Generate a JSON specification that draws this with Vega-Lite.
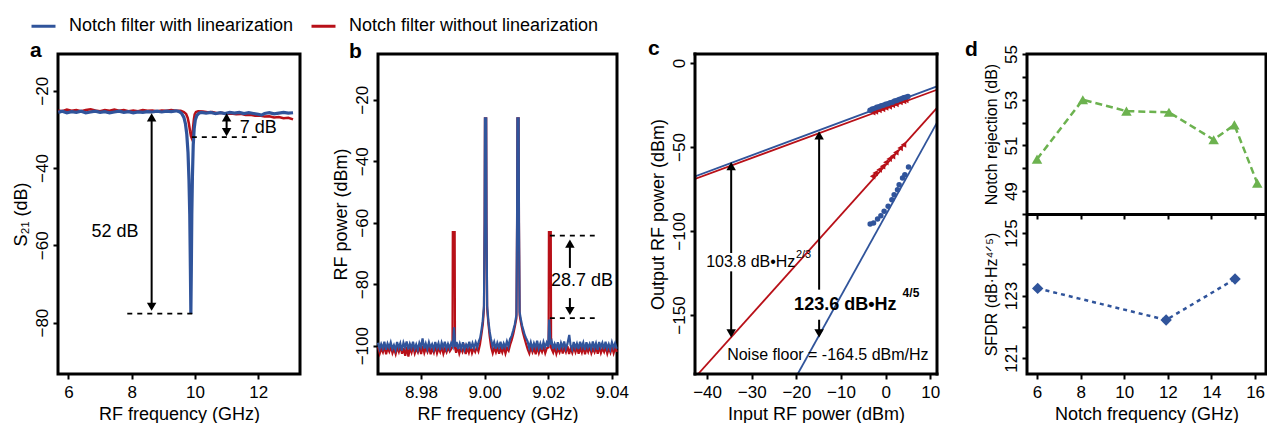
{
"$schema": "https://vega.github.io/schema/vega-lite/v6.json",
"background": "white",
"padding": {"left": 10, "top": 12, "right": 0, "bottom": 0},
"config": {
  "font": "Liberation Sans",
  "view": {"stroke": "black", "strokeWidth": 3},
  "axis": {"domain": false, "grid": false, "ticks": true, "tickColor": "black", "tickWidth": 2, "tickSize": 5, "labelFont": "Liberation Sans", "labelFontSize": 17, "labelColor": "black", "labelPadding": 5, "labelOverlap": false, "labelFlush": false, "titleFont": "Liberation Sans", "titleFontSize": 18, "titleFontWeight": "normal", "titleColor": "black", "titlePadding": 5},
  "axisY": {"labelAngle": -90, "labelAlign": "center", "labelBaseline": "bottom", "labelPadding": 2, "titlePadding": 3},
  "title": {"font": "Liberation Sans", "fontSize": 21, "fontWeight": "bold", "color": "black", "anchor": "start", "frame": "group", "baseline": "alphabetic", "offset": 0}
},
"datasets": {
  "a_with": [
    {"x":5.68,"y":-25.6},{"x":5.8,"y":-25.3},{"x":5.95,"y":-25.7},{"x":6.1,"y":-25.4},{"x":6.25,"y":-25.6},{"x":6.4,"y":-25.3},{"x":6.55,"y":-25.7},{"x":6.7,"y":-25.5},{"x":6.85,"y":-25.3},{"x":7.0,"y":-25.6},{"x":7.15,"y":-25.4},{"x":7.3,"y":-25.7},{"x":7.45,"y":-25.5},{"x":7.6,"y":-25.3},{"x":7.75,"y":-25.6},{"x":7.9,"y":-25.4},{"x":8.05,"y":-25.7},{"x":8.2,"y":-25.5},{"x":8.35,"y":-25.6},{"x":8.5,"y":-25.4},{"x":8.65,"y":-25.5},{"x":8.8,"y":-25.3},{"x":8.95,"y":-25.5},{"x":9.1,"y":-25.3},{"x":9.25,"y":-25.4},{"x":9.4,"y":-25.2},{"x":9.5,"y":-25.4},{"x":9.58,"y":-25.9},{"x":9.65,"y":-26.9},{"x":9.7,"y":-28.6},{"x":9.74,"y":-31.2},{"x":9.78,"y":-36},{"x":9.81,"y":-43},{"x":9.835,"y":-52},{"x":9.855,"y":-66},{"x":9.87,"y":-77.8},{"x":9.885,"y":-66},{"x":9.9,"y":-52},{"x":9.92,"y":-42},{"x":9.945,"y":-34},{"x":9.975,"y":-29.8},{"x":10.01,"y":-27.6},{"x":10.06,"y":-26.4},{"x":10.13,"y":-25.8},{"x":10.2,"y":-25.6},{"x":10.35,"y":-25.8},{"x":10.5,"y":-25.6},{"x":10.65,"y":-25.9},{"x":10.8,"y":-25.7},{"x":10.95,"y":-25.9},{"x":11.1,"y":-25.6},{"x":11.25,"y":-25.8},{"x":11.4,"y":-25.6},{"x":11.55,"y":-25.9},{"x":11.7,"y":-25.7},{"x":11.85,"y":-25.9},{"x":12.0,"y":-26.1},{"x":12.1,"y":-26.3},{"x":12.2,"y":-25.9},{"x":12.35,"y":-25.7},{"x":12.5,"y":-26.0},{"x":12.65,"y":-25.8},{"x":12.8,"y":-25.6},{"x":12.95,"y":-25.8},{"x":13.1,"y":-25.7}
  ],
  "a_without": [
    {"x":5.68,"y":-25.1},{"x":5.8,"y":-25.3},{"x":5.95,"y":-24.9},{"x":6.1,"y":-25.2},{"x":6.25,"y":-25.0},{"x":6.4,"y":-25.3},{"x":6.55,"y":-25.0},{"x":6.7,"y":-24.8},{"x":6.85,"y":-25.1},{"x":7.0,"y":-25.3},{"x":7.15,"y":-25.0},{"x":7.3,"y":-25.2},{"x":7.45,"y":-24.9},{"x":7.6,"y":-25.2},{"x":7.75,"y":-25.0},{"x":7.9,"y":-25.3},{"x":8.05,"y":-25.1},{"x":8.2,"y":-25.3},{"x":8.35,"y":-25.0},{"x":8.5,"y":-25.2},{"x":8.65,"y":-25.1},{"x":8.8,"y":-25.3},{"x":8.95,"y":-25.1},{"x":9.1,"y":-25.2},{"x":9.25,"y":-25.0},{"x":9.4,"y":-25.2},{"x":9.55,"y":-25.2},{"x":9.65,"y":-25.5},{"x":9.72,"y":-26.0},{"x":9.77,"y":-27.0},{"x":9.81,"y":-28.6},{"x":9.845,"y":-30.5},{"x":9.875,"y":-31.8},{"x":9.895,"y":-32.2},{"x":9.915,"y":-31.5},{"x":9.94,"y":-29.5},{"x":9.965,"y":-27.4},{"x":9.99,"y":-26.1},{"x":10.03,"y":-25.5},{"x":10.1,"y":-25.3},{"x":10.25,"y":-25.4},{"x":10.4,"y":-25.6},{"x":10.55,"y":-25.5},{"x":10.7,"y":-25.8},{"x":10.85,"y":-25.7},{"x":11.0,"y":-26.0},{"x":11.15,"y":-25.9},{"x":11.3,"y":-26.1},{"x":11.45,"y":-26.0},{"x":11.6,"y":-26.3},{"x":11.75,"y":-26.2},{"x":11.9,"y":-26.5},{"x":12.05,"y":-26.4},{"x":12.2,"y":-26.7},{"x":12.35,"y":-26.6},{"x":12.5,"y":-26.9},{"x":12.65,"y":-26.8},{"x":12.8,"y":-27.1},{"x":12.95,"y":-27.0},{"x":13.1,"y":-27.4}
  ],
  "b_with": [
    {"x":8.9665,"y":-99.0},{"x":8.9670,"y":-101.1},{"x":8.9675,"y":-99.5},{"x":8.9680,"y":-100.9},{"x":8.9685,"y":-98.7},{"x":8.9690,"y":-101.3},{"x":8.9695,"y":-99.3},{"x":8.9700,"y":-100.6},{"x":8.9705,"y":-98.9},{"x":8.9710,"y":-101.0},{"x":8.9715,"y":-99.8},{"x":8.9720,"y":-101.4},{"x":8.9725,"y":-98.8},{"x":8.9730,"y":-100.7},{"x":8.9735,"y":-99.2},{"x":8.9740,"y":-101.6},{"x":8.9745,"y":-99.0},{"x":8.9750,"y":-100.5},{"x":8.9755,"y":-98.6},{"x":8.9760,"y":-101.2},{"x":8.9765,"y":-99.4},{"x":8.9770,"y":-100.8},{"x":8.9775,"y":-98.7},{"x":8.9780,"y":-101.0},{"x":8.9785,"y":-99.6},{"x":8.9790,"y":-101.3},{"x":8.9795,"y":-99.1},{"x":8.9800,"y":-100.4},{"x":8.9805,"y":-97.6},{"x":8.9810,"y":-100.9},{"x":8.9815,"y":-99.3},{"x":8.9820,"y":-101.1},{"x":8.9825,"y":-98.9},{"x":8.9830,"y":-100.6},{"x":8.9835,"y":-99.5},{"x":8.9840,"y":-101.2},{"x":8.9845,"y":-98.8},{"x":8.9850,"y":-100.7},{"x":8.9855,"y":-99.2},{"x":8.9860,"y":-101.4},{"x":8.9865,"y":-99.0},{"x":8.9870,"y":-100.5},{"x":8.9875,"y":-98.7},{"x":8.9880,"y":-101.0},{"x":8.9885,"y":-99.4},{"x":8.9890,"y":-100.8},{"x":8.9895,"y":-99.1},{"x":8.9900,"y":-100.2},{"x":8.9904,"y":-94.0},{"x":8.9908,"y":-100.4},{"x":8.9912,"y":-98.8},{"x":8.9917,"y":-101.1},{"x":8.9922,"y":-99.3},{"x":8.9927,"y":-100.9},{"x":8.9932,"y":-98.9},{"x":8.9937,"y":-101.2},{"x":8.9942,"y":-99.6},{"x":8.9947,"y":-100.6},{"x":8.9952,"y":-98.7},{"x":8.9957,"y":-101.0},{"x":8.9962,"y":-99.2},{"x":8.9967,"y":-100.7},{"x":8.9972,"y":-98.9},{"x":8.9977,"y":-100.4},{"x":8.9982,"y":-98.5},{"x":8.9986,"y":-97.5},{"x":8.9990,"y":-95},{"x":8.9994,"y":-92},{"x":8.9998,"y":-87},{"x":9.0000,"y":-60},{"x":9.0001,"y":-26},{"x":9.0005,"y":-26},{"x":9.0006,"y":-60},{"x":9.0008,"y":-87},{"x":9.0012,"y":-92},{"x":9.0016,"y":-95.5},{"x":9.0020,"y":-97.8},{"x":9.0025,"y":-100.3},{"x":9.0030,"y":-98.8},{"x":9.0035,"y":-101.0},{"x":9.0040,"y":-99.1},{"x":9.0045,"y":-100.6},{"x":9.0050,"y":-98.7},{"x":9.0055,"y":-101.1},{"x":9.0060,"y":-99.3},{"x":9.0065,"y":-100.5},{"x":9.0070,"y":-98.6},{"x":9.0075,"y":-100.2},{"x":9.0080,"y":-97.8},{"x":9.0085,"y":-96.8},{"x":9.0090,"y":-95},{"x":9.0095,"y":-93},{"x":9.0100,"y":-90},{"x":9.0102,"y":-60},{"x":9.0103,"y":-26},{"x":9.0107,"y":-26},{"x":9.0108,"y":-60},{"x":9.0110,"y":-89},{"x":9.0114,"y":-91.5},{"x":9.0118,"y":-93.5},{"x":9.0122,"y":-95},{"x":9.0126,"y":-96.5},{"x":9.0130,"y":-97.5},{"x":9.0135,"y":-98.6},{"x":9.0140,"y":-100.7},{"x":9.0145,"y":-98.9},{"x":9.0150,"y":-101.0},{"x":9.0155,"y":-99.2},{"x":9.0160,"y":-100.6},{"x":9.0165,"y":-98.4},{"x":9.0170,"y":-100.9},{"x":9.0175,"y":-99.3},{"x":9.0180,"y":-101.2},{"x":9.0185,"y":-98.8},{"x":9.0190,"y":-100.5},{"x":9.0195,"y":-99.0},{"x":9.0200,"y":-100.3},{"x":9.0203,"y":-91.5},{"x":9.0207,"y":-99.6},{"x":9.0211,"y":-98.7},{"x":9.0215,"y":-101.0},{"x":9.0220,"y":-99.4},{"x":9.0225,"y":-100.8},{"x":9.0230,"y":-98.9},{"x":9.0235,"y":-101.3},{"x":9.0240,"y":-99.1},{"x":9.0245,"y":-100.6},{"x":9.0250,"y":-98.6},{"x":9.0255,"y":-101.0},{"x":9.0260,"y":-99.5},{"x":9.0266,"y":-96.5},{"x":9.0270,"y":-99.8},{"x":9.0275,"y":-101.2},{"x":9.0280,"y":-98.8},{"x":9.0285,"y":-100.7},{"x":9.0290,"y":-99.3},{"x":9.0295,"y":-101.1},{"x":9.0300,"y":-98.7},{"x":9.0305,"y":-100.5},{"x":9.0310,"y":-99.0},{"x":9.0315,"y":-101.4},{"x":9.0320,"y":-98.9},{"x":9.0325,"y":-100.6},{"x":9.0330,"y":-99.4},{"x":9.0335,"y":-101.0},{"x":9.0340,"y":-98.6},{"x":9.0345,"y":-100.8},{"x":9.0350,"y":-99.2},{"x":9.0355,"y":-101.3},{"x":9.0360,"y":-98.8},{"x":9.0365,"y":-100.5},{"x":9.0370,"y":-99.1},{"x":9.0375,"y":-101.1},{"x":9.0380,"y":-98.7},{"x":9.0385,"y":-100.9},{"x":9.0390,"y":-99.5},{"x":9.0395,"y":-101.2},{"x":9.0400,"y":-98.9},{"x":9.0405,"y":-100.6},{"x":9.0410,"y":-99.2},{"x":9.0415,"y":-101.0}
  ],
  "b_without": [
    {"x":8.96655,"y":-100.4},{"x":8.96705,"y":-102.5},{"x":8.96755,"y":-100.9},{"x":8.96805,"y":-102.1},{"x":8.96855,"y":-100.2},{"x":8.96905,"y":-102.8},{"x":8.96955,"y":-100.6},{"x":8.97005,"y":-101.9},{"x":8.97055,"y":-100.3},{"x":8.97105,"y":-102.4},{"x":8.97155,"y":-101.0},{"x":8.97205,"y":-102.7},{"x":8.97255,"y":-100.5},{"x":8.97305,"y":-102.0},{"x":8.97355,"y":-100.1},{"x":8.97405,"y":-102.6},{"x":8.97455,"y":-100.8},{"x":8.97505,"y":-103.3},{"x":8.97555,"y":-100.4},{"x":8.97605,"y":-103.5},{"x":8.97655,"y":-100.7},{"x":8.97705,"y":-102.2},{"x":8.97755,"y":-100.2},{"x":8.97805,"y":-102.5},{"x":8.97855,"y":-100.9},{"x":8.97905,"y":-102.1},{"x":8.97955,"y":-100.3},{"x":8.98005,"y":-102.7},{"x":8.98055,"y":-100.0},{"x":8.98105,"y":-102.3},{"x":8.98155,"y":-100.6},{"x":8.98205,"y":-102.0},{"x":8.98255,"y":-100.4},{"x":8.98305,"y":-102.8},{"x":8.98355,"y":-100.8},{"x":8.98405,"y":-102.2},{"x":8.98455,"y":-100.1},{"x":8.98505,"y":-102.4},{"x":8.98555,"y":-100.7},{"x":8.98605,"y":-102.0},{"x":8.98655,"y":-100.3},{"x":8.98705,"y":-102.6},{"x":8.98755,"y":-100.9},{"x":8.98805,"y":-102.1},{"x":8.98855,"y":-100.5},{"x":8.98905,"y":-101.8},{"x":8.9899,"y":-100.4},{"x":8.9900,"y":-63},{"x":8.9906,"y":-63},{"x":8.9907,"y":-100.6},{"x":8.99105,"y":-102.3},{"x":8.99155,"y":-100.2},{"x":8.99205,"y":-102.5},{"x":8.99255,"y":-100.8},{"x":8.99305,"y":-102.0},{"x":8.99355,"y":-100.4},{"x":8.99405,"y":-102.7},{"x":8.99455,"y":-100.6},{"x":8.99505,"y":-102.2},{"x":8.99555,"y":-100.1},{"x":8.99605,"y":-102.4},{"x":8.99655,"y":-100.9},{"x":8.99705,"y":-102.0},{"x":8.99755,"y":-100.5},{"x":8.99805,"y":-101.8},{"x":8.99855,"y":-99.5},{"x":8.99905,"y":-96},{"x":8.99945,"y":-93},{"x":8.9998,"y":-88},{"x":9.0000,"y":-60},{"x":9.0001,"y":-26},{"x":9.0005,"y":-26},{"x":9.0006,"y":-60},{"x":9.0008,"y":-88},{"x":9.0012,"y":-93},{"x":9.0016,"y":-97},{"x":9.00205,"y":-100.5},{"x":9.00255,"y":-102.4},{"x":9.00305,"y":-100.6},{"x":9.00355,"y":-102.1},{"x":9.00405,"y":-100.3},{"x":9.00455,"y":-102.6},{"x":9.00505,"y":-100.8},{"x":9.00555,"y":-102.2},{"x":9.00605,"y":-100.4},{"x":9.00655,"y":-102.5},{"x":9.00705,"y":-100.7},{"x":9.00755,"y":-101.6},{"x":9.00805,"y":-99.6},{"x":9.00855,"y":-98},{"x":9.00905,"y":-96},{"x":9.00955,"y":-93.5},{"x":9.0100,"y":-91},{"x":9.0102,"y":-60},{"x":9.0103,"y":-26},{"x":9.0107,"y":-26},{"x":9.0108,"y":-60},{"x":9.0110,"y":-90},{"x":9.0115,"y":-93},{"x":9.0120,"y":-95.5},{"x":9.0125,"y":-97.5},{"x":9.01305,"y":-99.5},{"x":9.01355,"y":-101.2},{"x":9.01405,"y":-102.5},{"x":9.01455,"y":-100.4},{"x":9.01505,"y":-102.1},{"x":9.01555,"y":-100.7},{"x":9.01605,"y":-102.8},{"x":9.01655,"y":-100.2},{"x":9.01705,"y":-102.3},{"x":9.01755,"y":-100.6},{"x":9.01805,"y":-102.0},{"x":9.01855,"y":-100.3},{"x":9.01905,"y":-102.4},{"x":9.01955,"y":-100.8},{"x":9.0201,"y":-100.5},{"x":9.0202,"y":-63},{"x":9.0208,"y":-63},{"x":9.0209,"y":-100.7},{"x":9.02155,"y":-102.2},{"x":9.02205,"y":-100.4},{"x":9.02255,"y":-102.6},{"x":9.02305,"y":-100.9},{"x":9.02355,"y":-102.1},{"x":9.02405,"y":-100.3},{"x":9.02455,"y":-102.5},{"x":9.02505,"y":-100.6},{"x":9.02555,"y":-102.0},{"x":9.02605,"y":-100.2},{"x":9.02655,"y":-102.7},{"x":9.02705,"y":-100.8},{"x":9.02755,"y":-102.3},{"x":9.02805,"y":-100.5},{"x":9.02855,"y":-102.1},{"x":9.02905,"y":-100.4},{"x":9.02955,"y":-102.6},{"x":9.03005,"y":-100.7},{"x":9.03055,"y":-102.2},{"x":9.03105,"y":-100.1},{"x":9.03155,"y":-102.8},{"x":9.03205,"y":-100.6},{"x":9.03255,"y":-102.0},{"x":9.03305,"y":-100.3},{"x":9.03355,"y":-102.4},{"x":9.03405,"y":-100.9},{"x":9.03455,"y":-102.1},{"x":9.03505,"y":-100.5},{"x":9.03555,"y":-102.6},{"x":9.03605,"y":-100.2},{"x":9.03655,"y":-102.3},{"x":9.03705,"y":-100.8},{"x":9.03755,"y":-102.0},{"x":9.03805,"y":-100.4},{"x":9.03855,"y":-102.5},{"x":9.03905,"y":-100.7},{"x":9.03955,"y":-102.2},{"x":9.04005,"y":-100.3},{"x":9.04055,"y":-102.4},{"x":9.04105,"y":-100.6},{"x":9.04155,"y":-102.0}
  ],
  "c_fund_with": [
    {"x":-3.5,"y":-28.1},{"x":-3.0,"y":-27.4},{"x":-2.5,"y":-27.0},{"x":-2.0,"y":-26.4},{"x":-1.5,"y":-26.0},{"x":-1.0,"y":-25.4},{"x":-0.5,"y":-25.1},{"x":0,"y":-24.6},{"x":0.5,"y":-24.2},{"x":1.0,"y":-23.6},{"x":1.5,"y":-23.3},{"x":2.0,"y":-22.6},{"x":2.5,"y":-22.3},{"x":3.0,"y":-21.7},{"x":3.5,"y":-21.3},{"x":4.0,"y":-20.7},{"x":4.5,"y":-20.4},{"x":5.0,"y":-19.9}
  ],
  "c_fund_without": [
    {"x":-2.9,"y":-29.4},{"x":-2.3,"y":-28.9},{"x":-1.5,"y":-28.0},{"x":-0.7,"y":-27.4},{"x":0,"y":-26.5},{"x":0.8,"y":-25.9},{"x":1.5,"y":-25.0},{"x":2.3,"y":-24.4},{"x":3.2,"y":-23.3},{"x":4.0,"y":-22.7},{"x":4.5,"y":-22.1}
  ],
  "c_imd_with": [
    {"x":-3.47,"y":-95.8},{"x":-2.71,"y":-95.2},{"x":-1.81,"y":-92.9},{"x":-1.07,"y":-90.9},{"x":-0.34,"y":-88.3},{"x":0.56,"y":-85.3},{"x":1.39,"y":-81.4},{"x":1.9,"y":-78.4},{"x":2.66,"y":-75.4},{"x":3.02,"y":-72.4},{"x":3.78,"y":-68.5},{"x":4.3,"y":-66.5},{"x":5.12,"y":-61.9}
  ],
  "c_imd_without": [
    {"x":-2.93,"y":-67.4},{"x":-2.35,"y":-65.5},{"x":-1.45,"y":-63.5},{"x":-0.69,"y":-61.5},{"x":0.04,"y":-59.1},{"x":0.78,"y":-57.1},{"x":1.54,"y":-55.5},{"x":2.28,"y":-53.2},{"x":3.24,"y":-50.6},{"x":4.0,"y":-48.6}
  ],
  "d_rej": [
    {"x":6.0,"y":50.4},{"x":8.1,"y":53.0},{"x":10.1,"y":52.5},{"x":12.05,"y":52.45},{"x":14.1,"y":51.25},{"x":15.05,"y":51.9},{"x":16.1,"y":49.35}
  ],
  "d_sfdr": [
    {"x":6.03,"y":123.23},{"x":11.92,"y":122.22},{"x":15.08,"y":123.53}
  ]
},
"hconcat": [
  {
    "width": 242, "height": 320,
    "title": {"text": "a", "dx": -28, "dy": 11},
    "encoding": {
      "x": {"field": "x", "type": "quantitative", "scale": {"domain": [5.67, 13.32], "nice": false, "zero": false}, "axis": {"values": [6, 8, 10, 12], "title": "RF frequency (GHz)"}},
      "y": {"field": "y", "type": "quantitative", "scale": {"domain": [-93.3, -10.5], "nice": false, "zero": false}, "axis": {"orient": "left", "values": [-20, -40, -60, -80], "title": "S₂₁ (dB)", "labelAngle": -90, "labelAlign": "center", "labelBaseline": "bottom"}}
    },
    "layer": [
      {"data": {"name": "a_without"}, "mark": {"type": "line", "strokeWidth": 2.5},
       "encoding": {"color": {"datum": "Notch filter without linearization", "type": "nominal",
         "scale": {"domain": ["Notch filter with linearization", "Notch filter without linearization"], "range": ["#30549b", "#b81018"]},
         "legend": {"orient": "none", "legendX": -28, "legendY": -41.5, "direction": "horizontal", "title": null, "symbolType": "stroke", "symbolSize": 576, "symbolStrokeWidth": 3, "labelFontSize": 18, "labelFont": "Liberation Sans", "labelColor": "black", "labelLimit": 400, "labelOffset": 12, "columnPadding": 11, "padding": 0}}}},
      {"data": {"name": "a_with"}, "mark": {"type": "line", "strokeWidth": 3.2},
       "encoding": {"color": {"datum": "Notch filter with linearization", "type": "nominal",
         "scale": {"domain": ["Notch filter with linearization", "Notch filter without linearization"], "range": ["#30549b", "#b81018"]},
         "legend": {"orient": "none", "legendX": -28, "legendY": -41.5, "direction": "horizontal", "title": null, "symbolType": "stroke", "symbolSize": 576, "symbolStrokeWidth": 3, "labelFontSize": 18, "labelFont": "Liberation Sans", "labelColor": "black", "labelLimit": 400, "labelOffset": 12, "columnPadding": 11, "padding": 0}}}},
      {"data": {"values": [{"x": 7.86, "x2": 9.93, "y": -77.7}, {"x": 9.9, "x2": 11.95, "y": -32.0}]},
       "mark": {"type": "rule", "color": "black", "strokeWidth": 1.8, "strokeDash": [5, 5]},
       "encoding": {"x2": {"field": "x2"}}},
      {"data": {"values": [{"x": 8.63, "y": -26.9, "y2": -75.9}, {"x": 11.0, "y": -26.9, "y2": -30.7}]},
       "mark": {"type": "rule", "color": "black", "strokeWidth": 2},
       "encoding": {"y2": {"field": "y2"}}},
      {"data": {"values": [{"x": 8.63, "y": -26.9}, {"x": 11.0, "y": -26.9}]},
       "mark": {"type": "point", "shape": "triangle-up", "filled": true, "color": "black", "size": 90, "opacity": 1, "strokeWidth": 0}},
      {"data": {"values": [{"x": 8.63, "y": -75.9}, {"x": 11.0, "y": -30.7}]},
       "mark": {"type": "point", "shape": "triangle-down", "filled": true, "color": "black", "size": 90, "opacity": 1, "strokeWidth": 0}},
      {"data": {"values": [{"x": 7.47, "y": -56.6, "label": "52 dB"}, {"x": 12.0, "y": -29.7, "label": "7 dB"}]},
       "mark": {"type": "text", "fontSize": 18, "font": "Liberation Sans", "color": "black", "align": "center", "baseline": "middle"},
       "encoding": {"text": {"field": "label"}}}
    ]
  },
  {
    "width": 239, "height": 320,
    "title": {"text": "b", "dx": -29, "dy": 12},
    "encoding": {
      "x": {"field": "x", "type": "quantitative", "scale": {"domain": [8.9665, 9.0416], "nice": false, "zero": false}, "axis": {"values": [8.98, 9.0, 9.02, 9.04], "format": ".2f", "title": "RF frequency (GHz)"}},
      "y": {"field": "y", "type": "quantitative", "scale": {"domain": [-109.2, -5.1], "nice": false, "zero": false}, "axis": {"orient": "left", "values": [-20, -40, -60, -80, -100], "title": "RF power (dBm)", "labelAngle": -90, "labelAlign": "center", "labelBaseline": "bottom"}}
    },
    "layer": [
      {"data": {"name": "b_without"}, "mark": {"type": "line", "color": "#b81018", "strokeWidth": 2.2}},
      {"data": {"name": "b_with"}, "mark": {"type": "line", "color": "#30549b", "strokeWidth": 2.2}},
      {"data": {"values": [{"x": 9.0205, "x2": 9.0346, "y": -64.2}, {"x": 9.0205, "x2": 9.0346, "y": -91.0}]},
       "mark": {"type": "rule", "color": "black", "strokeWidth": 1.8, "strokeDash": [5, 5]},
       "encoding": {"x2": {"field": "x2"}}},
      {"data": {"values": [{"x": 9.0268, "y": -66.8, "y2": -74.7}, {"x": 9.0268, "y": -84.5, "y2": -88.7}]},
       "mark": {"type": "rule", "color": "black", "strokeWidth": 2},
       "encoding": {"y2": {"field": "y2"}}},
      {"data": {"values": [{"x": 9.0268, "y": -66.8}]},
       "mark": {"type": "point", "shape": "triangle-up", "filled": true, "color": "black", "size": 90, "opacity": 1, "strokeWidth": 0}},
      {"data": {"values": [{"x": 9.0268, "y": -88.7}]},
       "mark": {"type": "point", "shape": "triangle-down", "filled": true, "color": "black", "size": 90, "opacity": 1, "strokeWidth": 0}},
      {"data": {"values": [{"x": 9.0306, "y": -79.0, "label": "28.7 dB"}]},
       "mark": {"type": "text", "fontSize": 18, "font": "Liberation Sans", "color": "black", "align": "center", "baseline": "middle"},
       "encoding": {"text": {"field": "label"}}}
    ]
  },
  {
    "width": 254, "height": 320,
    "view": {"stroke": null},
    "title": {"text": "c", "dx": -47, "dy": 11},
    "encoding": {
      "x": {"field": "x", "type": "quantitative", "scale": {"domain": [-42.7, 11.5], "range": [0, 242], "nice": false, "zero": false}, "axis": {"values": [-40, -30, -20, -10, 0, 10], "title": "Input RF power (dBm)"}},
      "y": {"field": "y", "type": "quantitative", "scale": {"domain": [-185.1, 5.36], "nice": false, "zero": false}, "axis": {"orient": "left", "values": [0, -50, -100, -150], "title": "Output RF power (dBm)", "labelAngle": -90, "labelAlign": "center", "labelBaseline": "bottom"}}
    },
    "layer": [
      {"data": {"values": [{"x": -42.7, "y": -67.5, "x2": 11.5, "y2": -13.9}, {"x": -19.7, "y": -185.1, "x2": 11.5, "y2": -35.5}]},
       "mark": {"type": "rule", "color": "#30549b", "strokeWidth": 1.8, "clip": true},
       "encoding": {"x2": {"field": "x2"}, "y2": {"field": "y2"}}},
      {"data": {"values": [{"x": -42.7, "y": -69.0, "x2": 11.5, "y2": -15.9}, {"x": -42.0, "y": -185.1, "x2": 11.5, "y2": -26.7}]},
       "mark": {"type": "rule", "color": "#b81018", "strokeWidth": 1.8, "clip": true},
       "encoding": {"x2": {"field": "x2"}, "y2": {"field": "y2"}}},
      {"data": {"values": [{"y": -163.3}]},
       "mark": {"type": "rule", "color": "black", "strokeWidth": 2, "strokeDash": [6, 5]},
       "encoding": {"x": {"datum": -42.7}, "x2": {"datum": 11.5}}},
      {"data": {"values": [{"x": -34.6, "y": -61.4, "y2": -113.1}, {"x": -34.6, "y": -124.0, "y2": -160.9}, {"x": -14.9, "y": -43.1, "y2": -134.9}, {"x": -14.9, "y": -152.8, "y2": -160.9}]},
       "mark": {"type": "rule", "color": "black", "strokeWidth": 2},
       "encoding": {"y2": {"field": "y2"}}},
      {"data": {"values": [{"x": -34.6, "y": -61.4}, {"x": -14.9, "y": -43.1}]},
       "mark": {"type": "point", "shape": "triangle-up", "filled": true, "color": "black", "size": 90, "opacity": 1, "strokeWidth": 0}},
      {"data": {"values": [{"x": -34.6, "y": -160.9}, {"x": -14.9, "y": -160.9}]},
       "mark": {"type": "point", "shape": "triangle-down", "filled": true, "color": "black", "size": 90, "opacity": 1, "strokeWidth": 0}},
      {"data": {"name": "c_fund_without"},
       "mark": {"type": "point", "shape": "triangle-left", "filled": true, "color": "#b81018", "size": 40, "opacity": 1}},
      {"data": {"name": "c_imd_without"},
       "mark": {"type": "point", "shape": "triangle-left", "filled": true, "color": "#b81018", "size": 40, "opacity": 1}},
      {"data": {"name": "c_fund_with"},
       "mark": {"type": "point", "shape": "circle", "filled": true, "color": "#30549b", "size": 30, "opacity": 1}},
      {"data": {"name": "c_imd_with"},
       "mark": {"type": "point", "shape": "circle", "filled": true, "color": "#30549b", "size": 30, "opacity": 1}},
      {"data": {"values": [{"x": -40.2, "y": -118.6, "label": "103.8 dB•Hz"}, {"x": -35.5, "y": -173.6, "label": "Noise floor = -164.5 dBm/Hz"}]},
       "mark": {"type": "text", "fontSize": 16, "font": "Liberation Sans", "color": "black", "align": "left", "baseline": "middle"},
       "encoding": {"text": {"field": "label"}}},
      {"data": {"values": [{"x": -20.1, "y": -114.1, "label": "2/3"}]},
       "mark": {"type": "text", "fontSize": 11, "font": "Liberation Sans", "color": "black", "align": "left", "baseline": "middle"},
       "encoding": {"text": {"field": "label"}}},
      {"data": {"values": [{"x": -20.5, "y": -143.8, "label": "123.6 dB•Hz"}]},
       "mark": {"type": "text", "fontSize": 18, "fontWeight": "bold", "font": "Liberation Sans", "color": "black", "align": "left", "baseline": "middle"},
       "encoding": {"text": {"field": "label"}}},
      {"data": {"values": [{"x": 3.8, "y": -136.9, "label": "4/5"}]},
       "mark": {"type": "text", "fontSize": 12, "fontWeight": "bold", "font": "Liberation Sans", "color": "black", "align": "left", "baseline": "middle"},
       "encoding": {"text": {"field": "label"}}},
      {"data": {"values": [{"x": -42.7, "y": -185.1, "x2": 11.5, "y2": -185.1}, {"x": -42.7, "y": 5.36, "x2": 11.5, "y2": 5.36}, {"x": -42.7, "y": -185.1, "x2": -42.7, "y2": 5.36}, {"x": 11.5, "y": -185.1, "x2": 11.5, "y2": 5.36}]},
       "mark": {"type": "rule", "color": "black", "strokeWidth": 3, "strokeCap": "square"},
       "encoding": {"x2": {"field": "x2"}, "y2": {"field": "y2"}}}
    ]
  },
  {
    "width": 239, "height": 320,
    "title": {"text": "d", "dx": -62, "dy": 19},
    "layer": [
      {
        "data": {"name": "d_rej"},
        "encoding": {
          "x": {"field": "x", "type": "quantitative", "scale": {"domain": [5.54, 16.5], "nice": false, "zero": false}, "axis": {"orient": "bottom", "offset": -160, "values": [6, 8, 10, 12, 14, 16], "labels": false, "title": null, "domain": true, "domainColor": "black", "domainWidth": 3}},
          "y": {"field": "y", "type": "quantitative", "scale": {"domain": [48, 55], "range": [160, 0], "nice": false, "zero": false}, "axis": {"orient": "left", "values": [48, 49, 50, 51, 52, 53, 54, 55], "labelExpr": "datum.value % 2 == 1 ? datum.label : ''", "title": "Notch rejection (dB)", "titleFontSize": 16, "labelAngle": -90, "labelAlign": "center", "labelBaseline": "bottom"}}
        },
        "layer": [
          {"mark": {"type": "line", "color": "#6cb24f", "strokeDash": [7, 4], "strokeWidth": 2.5}},
          {"mark": {"type": "point", "shape": "triangle-up", "filled": true, "color": "#6cb24f", "size": 110, "opacity": 1}}
        ]
      },
      {
        "data": {"name": "d_sfdr"},
        "encoding": {
          "x": {"field": "x", "type": "quantitative", "scale": {"domain": [5.54, 16.5], "nice": false, "zero": false}, "axis": {"orient": "bottom", "values": [6, 8, 10, 12, 14, 16], "title": "Notch frequency (GHz)"}},
          "y": {"field": "y", "type": "quantitative", "scale": {"domain": [120.49, 125.61], "range": [320, 160], "nice": false, "zero": false}, "axis": {"orient": "left", "values": [121, 122, 123, 124, 125], "labelExpr": "datum.value % 2 == 1 ? datum.label : ''", "title": "SFDR (dB·Hz⁴ᐟ⁵)", "titleFontSize": 16, "labelAngle": -90, "labelAlign": "center", "labelBaseline": "bottom"}}
        },
        "layer": [
          {"mark": {"type": "line", "color": "#30549b", "strokeDash": [4, 4], "strokeWidth": 2.5}},
          {"mark": {"type": "point", "shape": "diamond", "filled": true, "color": "#30549b", "size": 130, "opacity": 1}}
        ]
      }
    ],
    "resolve": {"scale": {"x": "independent", "y": "independent"}, "axis": {"x": "independent", "y": "independent"}}
  }
],
"spacing": 78,
"bounds": "flush"
}
